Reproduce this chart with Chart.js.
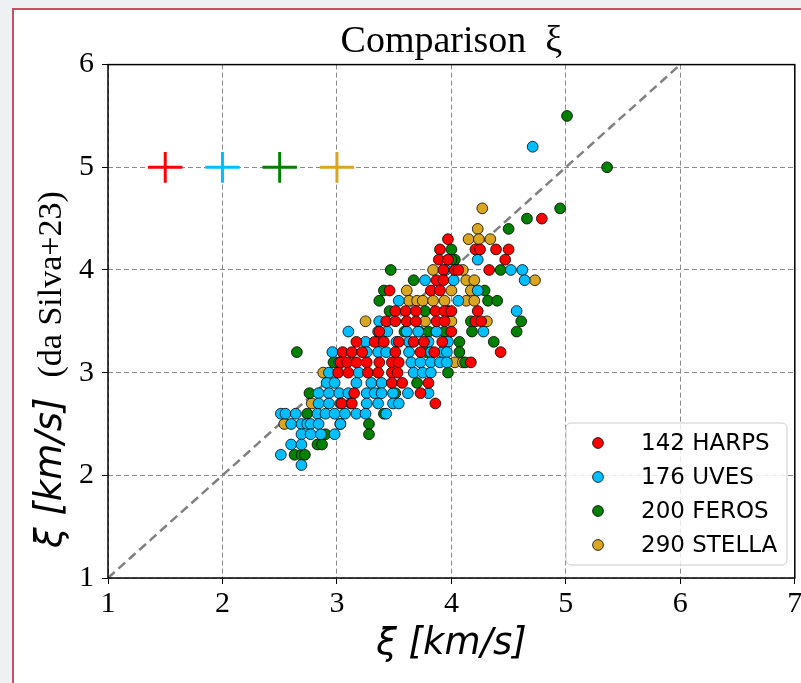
<!DOCTYPE html>
<html><head><meta charset="utf-8">
<script src="https://cdn.jsdelivr.net/npm/chart.js@4"></script>
<style>
html,body{margin:0;padding:0;width:801px;height:683px;overflow:hidden;background:#eef1f3;}
#frame{position:absolute;left:12px;top:8px;width:900px;height:800px;border:2px solid #c85064;background:#fff;}
#c{position:absolute;left:0;top:0;}
</style></head><body>
<div id="frame"></div>
<canvas id="c" width="801" height="683"></canvas>
<script>
const seriesLabels = ['142 HARPS', '176 UVES', '200 FEROS', '290 STELLA'];
const seriesColors = ['#ff0000', '#00bfff', '#008000', '#daa520'];

const harpsX = [4.79,3.97,3.90,4.21,4.25,4.39,4.50,3.89,3.97,4.47,3.93,4.03,4.06,4.33,3.87,3.93,3.46,3.82,3.90,
  3.51,3.60,3.69,3.86,3.94,4.00,4.23,3.43,3.51,3.61,3.69,3.87,3.94,4.21,4.26,3.37,4.00,
  3.17,3.33,3.41,3.54,3.67,3.76,3.92,3.05,3.13,3.22,3.51,3.73,3.85,4.43,
  3.03,3.09,3.17,3.26,3.37,3.48,3.54,4.17,3.01,3.10,3.27,3.36,3.48,3.53,3.48,3.57,3.80,3.15,3.73,3.04,3.13,3.86];
const harpsY = [4.5,4.3,4.2,4.2,4.2,4.2,4.2,4.1,4.1,4.1,4.0,4.0,4.0,4.0,3.9,3.9,3.8,3.8,3.8,
  3.6,3.6,3.6,3.6,3.6,3.6,3.6,3.5,3.5,3.5,3.5,3.5,3.5,3.5,3.5,3.4,3.4,
  3.3,3.3,3.3,3.3,3.3,3.3,3.3,3.2,3.2,3.2,3.2,3.2,3.2,3.2,
  3.1,3.1,3.1,3.1,3.1,3.1,3.1,3.1,3.0,3.0,3.0,3.0,3.0,3.0,2.9,2.9,2.9,2.8,2.8,2.7,2.7,2.7];

const uvesX = [4.71,4.23,3.95,4.52,4.62,3.77,4.02,4.64,4.23,3.54,4.06,4.57,3.37,
  3.10,3.36,3.44,3.61,3.71,3.87,4.28,3.25,3.35,3.52,3.63,3.80,3.97,
  2.96,3.26,3.36,3.43,3.63,3.82,3.92,3.96,3.02,3.65,3.73,3.82,3.90,3.96,2.93,3.19,3.67,3.75,3.82,
  2.91,2.98,3.17,3.30,3.39,2.84,2.93,3.02,3.10,3.26,3.33,3.39,3.49,3.62,3.80,
  2.84,2.93,3.03,3.12,3.26,3.36,3.49,3.54,2.51,2.55,2.64,2.83,2.90,2.98,3.07,3.17,3.25,3.43,
  2.60,2.69,2.74,2.77,2.84,3.03,2.69,2.77,2.86,2.98,2.60,2.69,2.51,2.69];
const uvesY = [5.2,4.1,4.0,4.0,4.0,3.9,3.9,3.9,3.8,3.7,3.7,3.6,3.5,
  3.4,3.4,3.4,3.4,3.4,3.4,3.4,3.3,3.3,3.3,3.3,3.3,3.3,
  3.2,3.2,3.2,3.2,3.2,3.2,3.2,3.2,3.1,3.1,3.1,3.1,3.1,3.1,3.0,3.0,3.0,3.0,3.0,
  2.9,2.9,2.9,2.9,2.9,2.8,2.8,2.8,2.8,2.8,2.8,2.8,2.8,2.8,2.8,
  2.7,2.7,2.7,2.7,2.7,2.7,2.7,2.7,2.6,2.6,2.6,2.6,2.6,2.6,2.6,2.6,2.6,2.6,
  2.5,2.5,2.5,2.5,2.5,2.5,2.4,2.4,2.4,2.4,2.3,2.3,2.2,2.1];

const ferosX = [5.01,5.36,4.95,4.66,4.50,4.00,4.03,4.00,3.47,4.43,3.67,3.41,4.29,3.37,4.32,4.40,3.46,3.77,3.97,
  4.17,4.61,3.59,3.72,3.80,3.87,3.94,4.18,4.57,4.07,4.37,2.65,3.78,4.07,2.97,4.12,3.97,3.70,
  2.76,3.37,3.51,2.74,3.41,3.03,3.28,2.90,3.28,2.83,2.87,2.63,2.69,2.72];
const ferosY = [5.5,5.0,4.6,4.5,4.4,4.2,4.1,4.1,4.0,4.0,3.9,3.8,3.8,3.7,3.7,3.7,3.6,3.6,3.6,
  3.5,3.5,3.4,3.4,3.4,3.4,3.4,3.4,3.4,3.3,3.3,3.2,3.2,3.2,3.1,3.1,3.0,2.9,
  2.8,2.8,2.8,2.6,2.6,2.5,2.5,2.4,2.4,2.3,2.3,2.2,2.2,2.2];

const stellaX = [4.27,4.23,4.15,4.24,4.34,3.84,4.10,4.13,4.20,4.73,3.61,4.00,4.17,
  3.63,3.70,3.75,3.84,3.94,4.13,4.20,3.25,3.77,4.00,4.31,4.03,4.10,2.88,2.78,2.54];
const stellaY = [4.6,4.4,4.3,4.3,4.3,4.0,4.0,3.9,3.9,3.9,3.8,3.8,3.8,
  3.7,3.7,3.7,3.7,3.7,3.7,3.7,3.5,3.5,3.5,3.5,3.1,3.1,3.0,2.7,2.5];

// representative error bars
const errX = [1.5, 2.0, 2.5, 3.0];
const errY = [5, 5, 5, 5];
const errHalfX = 0.15;
const errHalfY = 0.15;

// 1:1 line
const diagX = [1, 7];
const diagY = [1, 7];

const xTicks = [1, 2, 3, 4, 5, 6, 7];
const yTicks = [1, 2, 3, 4, 5, 6];

const titleText = 'Comparison  ξ';
const xLabel = 'ξ [km/s]';
const yLabelMain = 'ξ [km/s]';
const yLabelSub = '(da Silva+23)';

const pts = (xs, ys) => xs.map((x, i) => ({x: x, y: ys[i]}));
const cross = i => [
  {x: errX[i] - errHalfX, y: errY[i]}, {x: errX[i] + errHalfX, y: errY[i]},
  {x: errX[i], y: null},
  {x: errX[i], y: errY[i] - errHalfY}, {x: errX[i], y: errY[i] + errHalfY}
];

const seriesData = [pts(harpsX, harpsY), pts(uvesX, uvesY), pts(ferosX, ferosY), pts(stellaX, stellaY)];

const datasets = [];
seriesData.forEach((d, i) => datasets.push({
  type: 'scatter', label: seriesLabels[i], data: d,
  backgroundColor: seriesColors[i], borderColor: '#000', borderWidth: 0.8,
  pointRadius: 5.4, pointHoverRadius: 5.4
}));
errX.forEach((_, i) => datasets.push({
  type: 'line', label: 'err' + i, data: cross(i), showLine: true, spanGaps: false,
  borderColor: seriesColors[i], borderWidth: 3, pointRadius: 0, fill: false, tension: 0
}));
datasets.push({
  type: 'line', label: '1:1', data: pts(diagX, diagY), borderColor: '#808080',
  borderWidth: 2.5, borderDash: [9, 5], pointRadius: 0, fill: false
});

const serif = 'Liberation Serif, Times New Roman, serif';

const framePlugin = {
  id: 'frame',
  afterDatasetsDraw(chart) {
    const {ctx, chartArea: a} = chart;
    ctx.save();
    ctx.strokeStyle = '#000'; ctx.lineWidth = 1.5;
    ctx.strokeRect(a.left, a.top, a.right - a.left, a.bottom - a.top);
    ctx.restore();
  }
};

const yLabelPlugin = {
  id: 'ylab',
  afterDraw(chart) {
    const ctx = chart.ctx;
    ctx.save();
    ctx.translate(61, 548);
    ctx.rotate(-Math.PI / 2);
    ctx.fillStyle = '#000';
    ctx.textBaseline = 'alphabetic';
    ctx.textAlign = 'left';
    ctx.font = 'italic 37px "DejaVu Sans"';
    ctx.fillText(yLabelMain, 0, 0);
    const w = ctx.measureText(yLabelMain).width;
    ctx.font = '34px ' + serif;
    ctx.fillText(yLabelSub, w + 20, 0);
    ctx.restore();
  }
};

const legendPlugin = {
  id: 'boxLegend',
  afterDraw(chart) {
    const ctx = chart.ctx;
    const bx = 566, by = 423, bw = 221, bh = 142;
    ctx.save();
    ctx.beginPath();
    ctx.roundRect(bx, by, bw, bh, 5);
    ctx.fillStyle = 'rgba(255,255,255,0.8)';
    ctx.fill();
    ctx.strokeStyle = '#cccccc'; ctx.lineWidth = 1;
    ctx.stroke();
    const rows = [443, 477, 511, 545];
    seriesLabels.forEach((lab, i) => {
      ctx.beginPath();
      ctx.arc(598, rows[i], 5.4, 0, Math.PI * 2);
      ctx.fillStyle = seriesColors[i]; ctx.fill();
      ctx.strokeStyle = '#000'; ctx.lineWidth = 0.8; ctx.stroke();
      ctx.fillStyle = '#000';
      ctx.font = '23px "DejaVu Sans"';
      ctx.textBaseline = 'middle'; ctx.textAlign = 'left';
      ctx.fillText(lab, 641, rows[i] + 1);
    });
    ctx.restore();
  }
};

new Chart(document.getElementById('c'), {
  data: {datasets: datasets},
  options: {
    responsive: false, animation: false,
    layout: {padding: {left: 0, right: 3, top: 0, bottom: 0}},
    plugins: {
      legend: {display: false},
      tooltip: {enabled: false},
      title: {
        display: true, text: titleText, color: '#000', fullSize: false,
        font: {family: serif, size: 38, weight: 'normal', lineHeight: 1.2},
        padding: {top: 19, bottom: 0}
      }
    },
    scales: {
      x: {
        type: 'linear', min: 1, max: 7,
        afterBuildTicks: s => { s.ticks = xTicks.map(v => ({value: v})); },
        afterFit: s => { s.height = 105; s.paddingLeft = 0; s.paddingRight = 0; },
        ticks: {color: '#000', font: {family: serif, size: 30}, padding: 2, maxRotation: 0, callback: v => String(v)},
        grid: {color: '#8a8a8a', lineWidth: 1, drawTicks: true, tickLength: 6, tickColor: '#000', tickWidth: 1},
        border: {display: false, dash: [5, 3]},
        title: {display: true, text: xLabel, color: '#000',
          font: {family: 'DejaVu Sans', style: 'italic', size: 37, lineHeight: 1.2},
          padding: {top: 0, bottom: 16}}
      },
      y: {
        type: 'linear', min: 1, max: 6,
        afterBuildTicks: s => { s.ticks = yTicks.map(v => ({value: v})); },
        afterFit: s => { s.width = 108; s.paddingTop = 0; s.paddingBottom = 0; },
        ticks: {color: '#000', font: {family: serif, size: 30}, padding: 8, callback: v => String(v)},
        grid: {color: '#8a8a8a', lineWidth: 1, drawTicks: true, tickLength: 6, tickColor: '#000', tickWidth: 1},
        border: {display: false, dash: [5, 3]}
      }
    }
  },
  plugins: [framePlugin, yLabelPlugin, legendPlugin]
});
</script></body></html>
